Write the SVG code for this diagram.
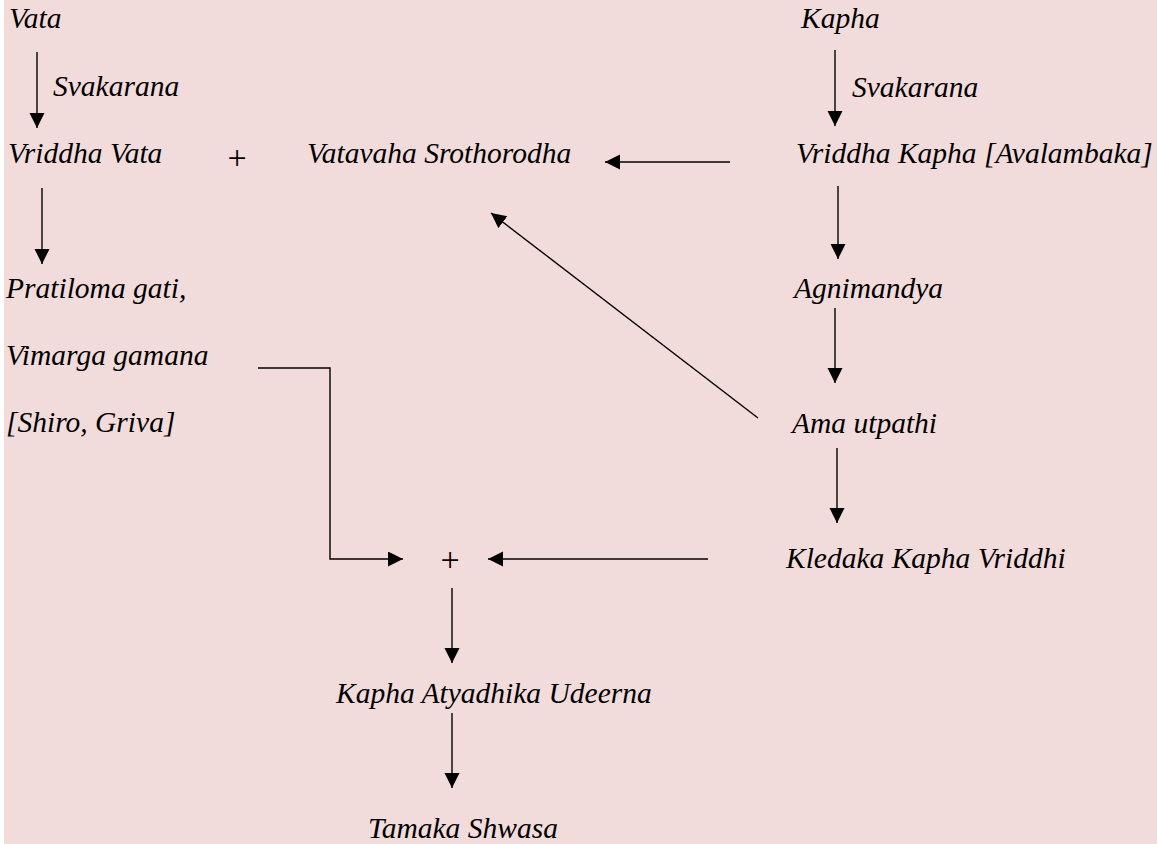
<svg xmlns="http://www.w3.org/2000/svg" width="1157" height="844" viewBox="0 0 1157 844">
<style>
.t{font-family:"Liberation Serif","Times New Roman",serif;font-style:italic;font-size:29.5px;fill:#000}
.p{font-family:"Liberation Serif","Times New Roman",serif;font-size:34px;fill:#000}
.c{fill:none;stroke:#000;stroke-width:1.4}
</style>
<defs>
<marker id="ah" markerUnits="userSpaceOnUse" markerWidth="16" markerHeight="16" refX="15" refY="7.5" orient="auto">
<path d="M0,0 L15,7.5 L0,15 z" fill="#000"/>
</marker>
</defs>
<rect x="0" y="0" width="1157" height="844" fill="#ffffff"/>
<rect x="4" y="0" width="1153" height="844" fill="#F2DCDB"/>
<g id="n-vata"><text class="t" x="9" y="28">Vata</text></g>
<g id="n-svakarana1"><text class="t" x="53" y="96">Svakarana</text></g>
<g id="n-vriddha-vata"><text class="t" x="8" y="163">Vriddha Vata</text></g>
<g id="n-plus1"><text class="p" x="237" y="169" text-anchor="middle">+</text></g>
<g id="n-vatavaha"><text class="t" x="307" y="163">Vatavaha Srothorodha</text></g>
<g id="n-kapha"><text class="t" x="801" y="28">Kapha</text></g>
<g id="n-svakarana2"><text class="t" x="852" y="97">Svakarana</text></g>
<g id="n-vriddha-kapha"><text class="t" x="796" y="163">Vriddha Kapha [Avalambaka]</text></g>
<g id="n-pratiloma"><text class="t" x="6" y="298">Pratiloma gati,</text></g>
<g id="n-vimarga"><text class="t" x="6" y="365">Vimarga gamana</text></g>
<g id="n-shiro"><text class="t" x="6" y="432">[Shiro, Griva]</text></g>
<g id="n-agnimandya"><text class="t" x="794" y="298">Agnimandya</text></g>
<g id="n-ama"><text class="t" x="792" y="433">Ama utpathi</text></g>
<g id="n-kledaka"><text class="t" x="786" y="568">Kledaka Kapha Vriddhi</text></g>
<g id="n-plus2"><text class="p" x="450" y="571" text-anchor="middle">+</text></g>
<g id="n-udeerna"><text class="t" x="336" y="703">Kapha Atyadhika Udeerna</text></g>
<g id="n-tamaka"><text class="t" x="368" y="838">Tamaka Shwasa</text></g>
<g id="connectors">
<line class="c" x1="37" y1="52" x2="37" y2="128" marker-end="url(#ah)"/>
<line class="c" x1="835" y1="50" x2="835" y2="126" marker-end="url(#ah)"/>
<line class="c" x1="42" y1="188" x2="42" y2="264" marker-end="url(#ah)"/>
<line class="c" x1="730" y1="162" x2="605" y2="162" marker-end="url(#ah)"/>
<line class="c" x1="838" y1="186" x2="838" y2="259" marker-end="url(#ah)"/>
<line class="c" x1="835" y1="308" x2="835" y2="383" marker-end="url(#ah)"/>
<line class="c" x1="837" y1="448" x2="837" y2="523" marker-end="url(#ah)"/>
<line class="c" x1="758" y1="418" x2="491" y2="213" marker-end="url(#ah)"/>
<polyline class="c" points="258,368 330,368 330,559 403,559" marker-end="url(#ah)"/>
<line class="c" x1="708" y1="559" x2="488" y2="559" marker-end="url(#ah)"/>
<line class="c" x1="452" y1="588" x2="452" y2="663" marker-end="url(#ah)"/>
<line class="c" x1="452" y1="713" x2="452" y2="788" marker-end="url(#ah)"/>
</g>
</svg>
